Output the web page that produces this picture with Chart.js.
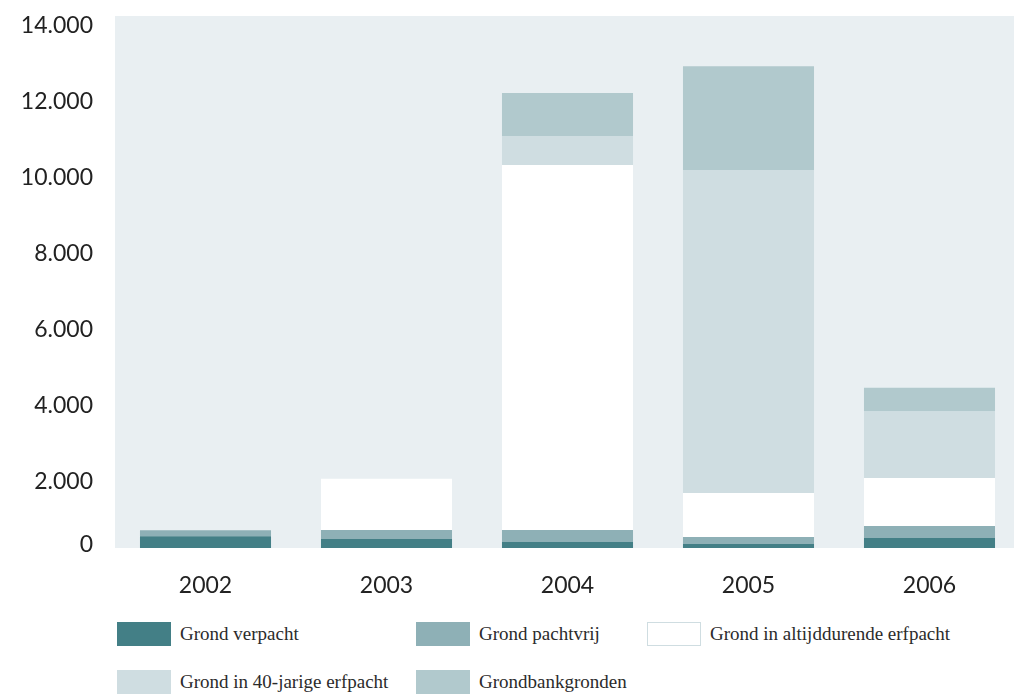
<!DOCTYPE html>
<html>
<head>
<meta charset="utf-8">
<script src="https://cdn.jsdelivr.net/npm/chart.js@4.4.1/dist/chart.umd.min.js"></script>
<style>
  html, body { margin: 0; padding: 0; background: #fff; overflow: hidden; }
  #wrap { position: relative; width: 1014px; height: 696px; }
  #grondChart { position: absolute; left: 0; top: 0; }
  .legend-item { position: absolute; display: flex; align-items: center; font-family: "Liberation Serif", "DejaVu Serif", serif; font-size: 19px; color: #2b2b2b; white-space: nowrap; }
  .legend-box { width: 54px; height: 24px; box-sizing: border-box; margin-right: 9px; }
</style>
</head>
<body>
<div id="wrap">
  <canvas id="grondChart" width="1022" height="610"></canvas>
  <div id="legend"></div>
</div>
<script>
const years = ['2002', '2003', '2004', '2005', '2006'];
const verpacht   = [310, 240, 160, 105, 265];
const pachtvrij  = [160, 235, 315, 185, 315];
const altijd     = [0, 1345, 9605, 1155, 1265];
const veertig    = [0, 0, 765, 8500, 1745];
const grondbank  = [0, 0, 1130, 2735, 625];
const yTicks     = [0, 2000, 4000, 6000, 8000, 10000, 12000, 14000];

const series = [
  { label: 'Grond verpacht', data: verpacht, color: '#437f86' },
  { label: 'Grond pachtvrij', data: pachtvrij, color: '#8eb0b6' },
  { label: 'Grond in altijddurende erfpacht', data: altijd, color: '#ffffff', border: '#cfdde1' },
  { label: 'Grond in 40-jarige erfpacht', data: veertig, color: '#cfdde1' },
  { label: 'Grondbankgronden', data: grondbank, color: '#b1c9cd' }
];

// legend columns, row by row
const legendSlots = [
  { left: 117, top: 622 }, { left: 416, top: 622 }, { left: 647, top: 622 },
  { left: 117, top: 670 }, { left: 416, top: 670 }
];

const plotBg = {
  id: 'plotBg',
  beforeDraw(chart) {
    const { ctx, chartArea: a } = chart;
    ctx.save();
    ctx.fillStyle = '#e9eff2';
    ctx.fillRect(a.left, a.top, a.right - a.left, a.bottom - a.top);
    ctx.restore();
  }
};

const fmt = v => v.toLocaleString('nl-NL');

new Chart(document.getElementById('grondChart'), {
  type: 'bar',
  data: {
    labels: years,
    datasets: series.map(s => ({
      label: s.label,
      data: s.data,
      backgroundColor: s.color,
      borderWidth: 0,
      barPercentage: 0.724,
      categoryPercentage: 1
    }))
  },
  options: {
    responsive: false,
    animation: false,
    layout: { padding: { top: 16, right: 2, left: 0, bottom: 0 } },
    plugins: { legend: { display: false }, tooltip: { enabled: false } },
    scales: {
      x: {
        stacked: true,
        grid: { display: false, drawTicks: false },
        border: { display: false },
        ticks: { color: '#222', padding: 24, font: { family: 'Lato', size: 23 } },
        afterFit(scale) { scale.height = 62; }
      },
      y: {
        stacked: true,
        min: 0,
        max: 14000,
        afterBuildTicks(scale) { scale.ticks = yTicks.map(v => ({ value: v })); },
        afterFit(scale) {
          scale.width = 115;
          scale.paddingTop = 0;
          scale.paddingBottom = 0;
        },
        grid: { display: false, drawTicks: false },
        border: { display: false },
        ticks: {
          color: '#222',
          padding: 22,
          labelOffset: 10,
          font: { family: 'Lato', size: 23 },
          // lift the zero label so it sits beside the base line
          callback: v => v === 0 ? ['0', ''] : fmt(v)
        }
      }
    }
  },
  plugins: [plotBg]
});

const legend = document.getElementById('legend');
series.forEach((s, i) => {
  const item = document.createElement('div');
  item.className = 'legend-item';
  item.style.left = legendSlots[i].left + 'px';
  item.style.top = legendSlots[i].top + 'px';
  const box = document.createElement('span');
  box.className = 'legend-box';
  box.style.background = s.color;
  if (s.border) box.style.border = '1px solid ' + s.border;
  item.appendChild(box);
  item.appendChild(document.createTextNode(s.label));
  legend.appendChild(item);
});
</script>
</body>
</html>
